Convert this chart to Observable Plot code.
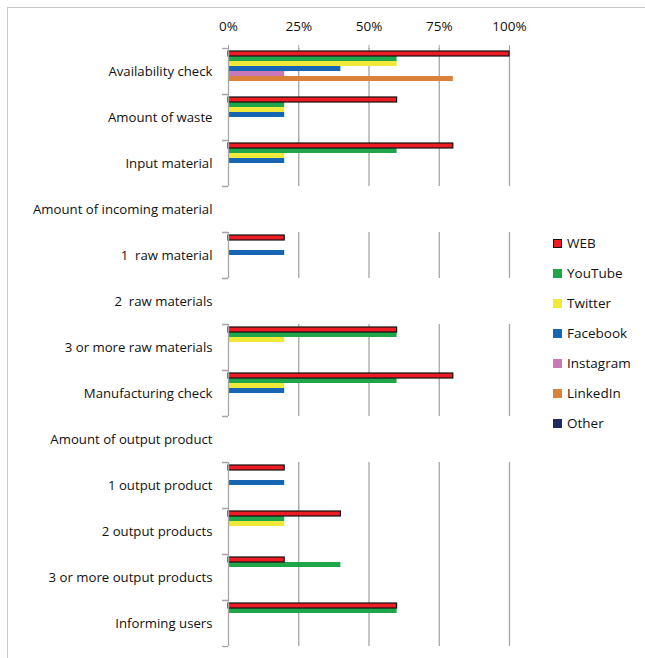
<!DOCTYPE html>
<html>
<head>
<meta charset="utf-8">
<script src="https://cdn.jsdelivr.net/npm/d3@7"></script>
<script src="https://cdn.jsdelivr.net/npm/@observablehq/plot@0.6"></script>
<style>
  html, body { margin: 0; padding: 0; background: #fff; }
  #wrap { position: relative; width: 645px; height: 658px; overflow: hidden; font-family: "Open Sans", sans-serif; }
  #border { position: absolute; left: 7px; top: 7px; width: 700px; height: 700px; border-left: 1px solid #c8c8c8; border-top: 1px solid #c8c8c8; }
  #legend { position: absolute; left: 553px; top: 228px; font-size: 13.5px; color: #111; }
  #legend .item { display: flex; align-items: center; height: 30px; }
  #legend .sw { width: 9px; height: 9px; margin-right: 5px; box-sizing: border-box; }
</style>
</head>
<body>
<div id="wrap"><div id="border"></div><div id="chart"></div><div id="legend"></div></div>
<script>
const categories = [
  "Availability check", "Amount of waste", "Input material", "Amount of incoming material",
  "1  raw material", "2  raw materials", "3 or more raw materials", "Manufacturing check",
  "Amount of output product", "1 output product", "2 output products",
  "3 or more output products", "Informing users"
];
const seriesNames = ["WEB", "YouTube", "Twitter", "Facebook", "Instagram", "LinkedIn", "Other"];
const seriesColors = ["#ed1c24", "#1fa64b", "#f0e93a", "#1666b3", "#c779b8", "#d9823b", "#1f2a5e"];
// values in %, one per category
const WEB       = [100, 60, 80, 0, 20, 0, 60, 80, 0, 20, 40, 20, 60];
const YouTube   = [60, 20, 60, 0, 0, 0, 60, 60, 0, 0, 20, 40, 60];
const Twitter   = [60, 20, 20, 0, 0, 0, 20, 20, 0, 0, 20, 0, 0];
const Facebook  = [40, 20, 20, 0, 20, 0, 0, 20, 0, 20, 0, 0, 0];
const Instagram = [20, 0, 0, 0, 0, 0, 0, 0, 0, 0, 0, 0, 0];
const LinkedIn  = [80, 0, 0, 0, 0, 0, 0, 0, 0, 0, 0, 0, 0];
const Other     = [0, 0, 0, 0, 0, 0, 0, 0, 0, 0, 0, 0, 0];
const xTicks = [0, 0.25, 0.5, 0.75, 1];

const seriesValues = {WEB, YouTube, Twitter, Facebook, Instagram, LinkedIn, Other};
const data = [];
categories.forEach((c, i) => {
  seriesNames.forEach(s => {
    data.push({category: c, series: s, value: seriesValues[s][i] / 100});
  });
});
const nonzero = data.filter(d => d.value > 0);

const chart = Plot.plot({
  width: 645,
  height: 658,
  marginTop: 48,
  marginBottom: 12,
  marginLeft: 228,
  marginRight: 136,
  style: {fontFamily: "'Open Sans', sans-serif", fontSize: "13px", color: "#111", background: "transparent"},
  x: {domain: [0, 1]},
  fy: {domain: categories, padding: 0, label: null},
  y: {domain: seriesNames, paddingInner: 0, paddingOuter: 0.5, align: 0.3, axis: null},
  color: {domain: seriesNames, range: seriesColors},
  marks: [
    Plot.gridX(xTicks.slice(1), {stroke: "#a6a6a6", strokeOpacity: 1, strokeWidth: 1.3}),
    Plot.barX(nonzero.filter(d => d.series !== "WEB"), {fy: "category", y: "series", x: "value", fill: "series"}),
    Plot.barX(nonzero.filter(d => d.series === "WEB"), {fy: "category", y: "series", x: "value", fill: "#ed1c24", stroke: "#111", strokeWidth: 1.2}),
    Plot.ruleX([0], {stroke: "#a6a6a6", strokeWidth: 1.3}),
    Plot.axisX(xTicks, {anchor: "top", facetAnchor: "top", tickFormat: d3.format(".0%"), tickSize: 4, tickPadding: 14, stroke: "#a6a6a6", label: null, fontSize: 13.5}),
    Plot.axisFy({anchor: "left", tickSize: 0, tickPadding: 16, label: null, fontSize: 13.2}),
    Plot.axisFy({anchor: "left", tickSize: 6, tickFormat: null, label: null, dy: -23, stroke: "#a6a6a6", strokeWidth: 1.3}),
    Plot.axisFy([categories[categories.length - 1]], {anchor: "left", tickSize: 6, tickFormat: null, label: null, dy: 23, stroke: "#a6a6a6", strokeWidth: 1.3})
  ]
});
document.getElementById("chart").appendChild(chart);

const legend = document.getElementById("legend");
seriesNames.forEach((s, i) => {
  const item = document.createElement("div");
  item.className = "item";
  const sw = document.createElement("div");
  sw.className = "sw";
  sw.style.background = seriesColors[i];
  if (s === "WEB") sw.style.border = "1.5px solid #111";
  const lab = document.createElement("span");
  lab.textContent = s;
  item.appendChild(sw);
  item.appendChild(lab);
  legend.appendChild(item);
});
</script>
</body>
</html>
